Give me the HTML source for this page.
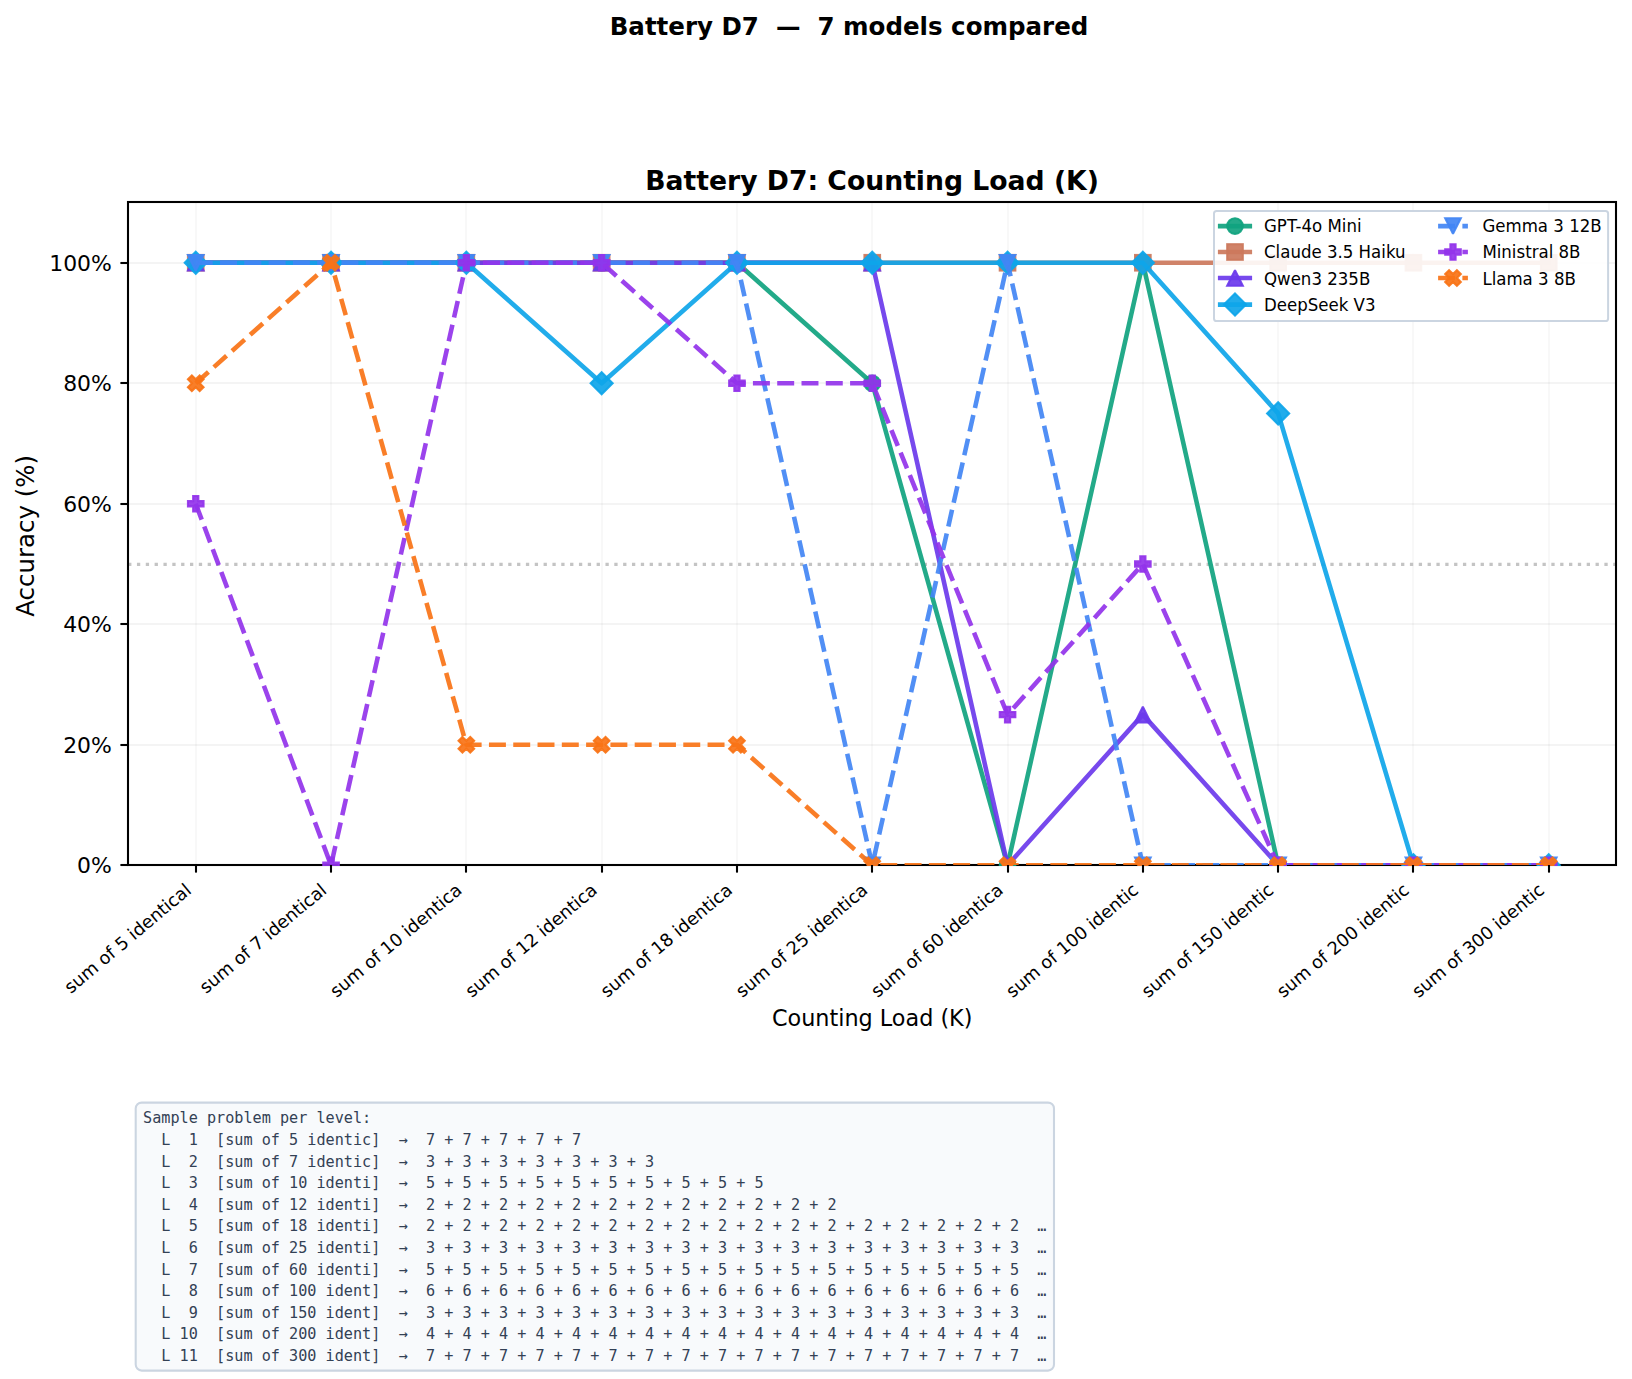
<!DOCTYPE html>
<html lang="en"><head><meta charset="utf-8"><title>Battery D7 — 7 models compared</title>
<style>html,body{margin:0;padding:0;background:#fff;overflow:hidden}svg{display:block}text{font-family:"DejaVu Sans","Liberation Sans",sans-serif;fill:#000}.mono{font-family:"DejaVu Sans Mono","Liberation Mono",monospace;fill:#334155;white-space:pre}</style></head><body>
<svg width="1632" height="1379" viewBox="0 0 1632 1379">
<rect width="1632" height="1379" fill="#fff"/>
<defs><clipPath id="ax"><rect x="128.0" y="202.0" width="1488.0" height="663.0"/></clipPath><clipPath id="axm"><rect x="128.0" y="202.0" width="1488.0" height="663.9"/></clipPath></defs>
<text x="849" y="35.4" text-anchor="middle" font-size="24.5" font-weight="bold" xml:space="preserve" style="white-space:pre">Battery D7  —  7 models compared</text>
<text x="872.05" y="189.5" text-anchor="middle" font-size="26.65" font-weight="bold">Battery D7: Counting Load (K)</text>
<g stroke="#000" stroke-width="1.67">
<line x1="196.0" y1="202.0" x2="196.0" y2="865.0" stroke-opacity="0.035"/>
<line x1="331.0" y1="202.0" x2="331.0" y2="865.0" stroke-opacity="0.035"/>
<line x1="466.0" y1="202.0" x2="466.0" y2="865.0" stroke-opacity="0.035"/>
<line x1="602.0" y1="202.0" x2="602.0" y2="865.0" stroke-opacity="0.035"/>
<line x1="737.0" y1="202.0" x2="737.0" y2="865.0" stroke-opacity="0.035"/>
<line x1="872.0" y1="202.0" x2="872.0" y2="865.0" stroke-opacity="0.035"/>
<line x1="1008.0" y1="202.0" x2="1008.0" y2="865.0" stroke-opacity="0.035"/>
<line x1="1143.0" y1="202.0" x2="1143.0" y2="865.0" stroke-opacity="0.035"/>
<line x1="1278.0" y1="202.0" x2="1278.0" y2="865.0" stroke-opacity="0.035"/>
<line x1="1413.0" y1="202.0" x2="1413.0" y2="865.0" stroke-opacity="0.035"/>
<line x1="1549.0" y1="202.0" x2="1549.0" y2="865.0" stroke-opacity="0.035"/>
<line x1="128.0" y1="865.0" x2="1616.0" y2="865.0" stroke-opacity="0.06"/>
<line x1="128.0" y1="745.0" x2="1616.0" y2="745.0" stroke-opacity="0.06"/>
<line x1="128.0" y1="624.0" x2="1616.0" y2="624.0" stroke-opacity="0.06"/>
<line x1="128.0" y1="504.0" x2="1616.0" y2="504.0" stroke-opacity="0.06"/>
<line x1="128.0" y1="383.0" x2="1616.0" y2="383.0" stroke-opacity="0.06"/>
<line x1="128.0" y1="263.0" x2="1616.0" y2="263.0" stroke-opacity="0.06"/>
</g>
<line x1="128.1" y1="564.40" x2="1616.4" y2="564.40" stroke="#c4c4c4" stroke-width="3.2" stroke-dasharray="3.3 5.54"/>
<rect x="128.0" y="202.0" width="1488.0" height="663.0" fill="none" stroke="#000" stroke-width="2.08"/>
<g clip-path="url(#ax)"><polyline points="195.75,262.75 331.05,262.75 466.35,262.75 601.65,262.75 736.95,262.75 872.25,383.25 1007.55,865.25 1142.85,262.75 1278.15,865.25 1413.45,865.25 1548.75,865.25" fill="none" stroke="#10a37f" stroke-opacity="0.92" stroke-width="4.58" stroke-linejoin="round" stroke-linecap="square"/></g>
<g clip-path="url(#axm)">
<circle cx="195.75" cy="262.75" r="7.80" fill="#10a37f" fill-opacity="0.92" stroke="#10a37f" stroke-opacity="0.92" stroke-width="2.08" stroke-linejoin="miter" stroke-miterlimit="2"/>
<circle cx="331.05" cy="262.75" r="7.80" fill="#10a37f" fill-opacity="0.92" stroke="#10a37f" stroke-opacity="0.92" stroke-width="2.08" stroke-linejoin="miter" stroke-miterlimit="2"/>
<circle cx="466.35" cy="262.75" r="7.80" fill="#10a37f" fill-opacity="0.92" stroke="#10a37f" stroke-opacity="0.92" stroke-width="2.08" stroke-linejoin="miter" stroke-miterlimit="2"/>
<circle cx="601.65" cy="262.75" r="7.80" fill="#10a37f" fill-opacity="0.92" stroke="#10a37f" stroke-opacity="0.92" stroke-width="2.08" stroke-linejoin="miter" stroke-miterlimit="2"/>
<circle cx="736.95" cy="262.75" r="7.80" fill="#10a37f" fill-opacity="0.92" stroke="#10a37f" stroke-opacity="0.92" stroke-width="2.08" stroke-linejoin="miter" stroke-miterlimit="2"/>
<circle cx="872.25" cy="383.25" r="7.80" fill="#10a37f" fill-opacity="0.92" stroke="#10a37f" stroke-opacity="0.92" stroke-width="2.08" stroke-linejoin="miter" stroke-miterlimit="2"/>
<circle cx="1007.55" cy="865.25" r="7.80" fill="#10a37f" fill-opacity="0.92" stroke="#10a37f" stroke-opacity="0.92" stroke-width="2.08" stroke-linejoin="miter" stroke-miterlimit="2"/>
<circle cx="1142.85" cy="262.75" r="7.80" fill="#10a37f" fill-opacity="0.92" stroke="#10a37f" stroke-opacity="0.92" stroke-width="2.08" stroke-linejoin="miter" stroke-miterlimit="2"/>
<circle cx="1278.15" cy="865.25" r="7.80" fill="#10a37f" fill-opacity="0.92" stroke="#10a37f" stroke-opacity="0.92" stroke-width="2.08" stroke-linejoin="miter" stroke-miterlimit="2"/>
<circle cx="1413.45" cy="865.25" r="7.80" fill="#10a37f" fill-opacity="0.92" stroke="#10a37f" stroke-opacity="0.92" stroke-width="2.08" stroke-linejoin="miter" stroke-miterlimit="2"/>
<circle cx="1548.75" cy="865.25" r="7.80" fill="#10a37f" fill-opacity="0.92" stroke="#10a37f" stroke-opacity="0.92" stroke-width="2.08" stroke-linejoin="miter" stroke-miterlimit="2"/>
</g>
<g clip-path="url(#ax)"><polyline points="195.75,262.75 331.05,262.75 466.35,262.75 601.65,262.75 736.95,262.75 872.25,262.75 1007.55,262.75 1142.85,262.75 1278.15,262.75 1413.45,262.75 1548.75,262.75" fill="none" stroke="#cc785c" stroke-opacity="0.92" stroke-width="4.58" stroke-linejoin="round" stroke-linecap="square"/></g>
<g clip-path="url(#axm)">
<rect x="187.95" y="254.95" width="15.60" height="15.60" fill="#cc785c" fill-opacity="0.92" stroke="#cc785c" stroke-opacity="0.92" stroke-width="2.08" stroke-linejoin="miter" stroke-miterlimit="2"/>
<rect x="323.25" y="254.95" width="15.60" height="15.60" fill="#cc785c" fill-opacity="0.92" stroke="#cc785c" stroke-opacity="0.92" stroke-width="2.08" stroke-linejoin="miter" stroke-miterlimit="2"/>
<rect x="458.55" y="254.95" width="15.60" height="15.60" fill="#cc785c" fill-opacity="0.92" stroke="#cc785c" stroke-opacity="0.92" stroke-width="2.08" stroke-linejoin="miter" stroke-miterlimit="2"/>
<rect x="593.85" y="254.95" width="15.60" height="15.60" fill="#cc785c" fill-opacity="0.92" stroke="#cc785c" stroke-opacity="0.92" stroke-width="2.08" stroke-linejoin="miter" stroke-miterlimit="2"/>
<rect x="729.15" y="254.95" width="15.60" height="15.60" fill="#cc785c" fill-opacity="0.92" stroke="#cc785c" stroke-opacity="0.92" stroke-width="2.08" stroke-linejoin="miter" stroke-miterlimit="2"/>
<rect x="864.45" y="254.95" width="15.60" height="15.60" fill="#cc785c" fill-opacity="0.92" stroke="#cc785c" stroke-opacity="0.92" stroke-width="2.08" stroke-linejoin="miter" stroke-miterlimit="2"/>
<rect x="999.75" y="254.95" width="15.60" height="15.60" fill="#cc785c" fill-opacity="0.92" stroke="#cc785c" stroke-opacity="0.92" stroke-width="2.08" stroke-linejoin="miter" stroke-miterlimit="2"/>
<rect x="1135.05" y="254.95" width="15.60" height="15.60" fill="#cc785c" fill-opacity="0.92" stroke="#cc785c" stroke-opacity="0.92" stroke-width="2.08" stroke-linejoin="miter" stroke-miterlimit="2"/>
<rect x="1270.35" y="254.95" width="15.60" height="15.60" fill="#cc785c" fill-opacity="0.92" stroke="#cc785c" stroke-opacity="0.92" stroke-width="2.08" stroke-linejoin="miter" stroke-miterlimit="2"/>
<rect x="1405.65" y="254.95" width="15.60" height="15.60" fill="#cc785c" fill-opacity="0.92" stroke="#cc785c" stroke-opacity="0.92" stroke-width="2.08" stroke-linejoin="miter" stroke-miterlimit="2"/>
<rect x="1540.95" y="254.95" width="15.60" height="15.60" fill="#cc785c" fill-opacity="0.92" stroke="#cc785c" stroke-opacity="0.92" stroke-width="2.08" stroke-linejoin="miter" stroke-miterlimit="2"/>
</g>
<g clip-path="url(#ax)"><polyline points="195.75,262.75 331.05,262.75 466.35,262.75 601.65,262.75 736.95,262.75 872.25,262.75 1007.55,865.25 1142.85,714.62 1278.15,865.25 1413.45,865.25 1548.75,865.25" fill="none" stroke="#6b3aeb" stroke-opacity="0.92" stroke-width="4.58" stroke-linejoin="round" stroke-linecap="square"/></g>
<g clip-path="url(#axm)">
<polygon points="195.75,254.95 203.55,270.55 187.95,270.55" fill="#6b3aeb" fill-opacity="0.92" stroke="#6b3aeb" stroke-opacity="0.92" stroke-width="2.08" stroke-linejoin="miter" stroke-miterlimit="2"/>
<polygon points="331.05,254.95 338.85,270.55 323.25,270.55" fill="#6b3aeb" fill-opacity="0.92" stroke="#6b3aeb" stroke-opacity="0.92" stroke-width="2.08" stroke-linejoin="miter" stroke-miterlimit="2"/>
<polygon points="466.35,254.95 474.15,270.55 458.55,270.55" fill="#6b3aeb" fill-opacity="0.92" stroke="#6b3aeb" stroke-opacity="0.92" stroke-width="2.08" stroke-linejoin="miter" stroke-miterlimit="2"/>
<polygon points="601.65,254.95 609.45,270.55 593.85,270.55" fill="#6b3aeb" fill-opacity="0.92" stroke="#6b3aeb" stroke-opacity="0.92" stroke-width="2.08" stroke-linejoin="miter" stroke-miterlimit="2"/>
<polygon points="736.95,254.95 744.75,270.55 729.15,270.55" fill="#6b3aeb" fill-opacity="0.92" stroke="#6b3aeb" stroke-opacity="0.92" stroke-width="2.08" stroke-linejoin="miter" stroke-miterlimit="2"/>
<polygon points="872.25,254.95 880.05,270.55 864.45,270.55" fill="#6b3aeb" fill-opacity="0.92" stroke="#6b3aeb" stroke-opacity="0.92" stroke-width="2.08" stroke-linejoin="miter" stroke-miterlimit="2"/>
<polygon points="1007.55,857.45 1015.35,873.05 999.75,873.05" fill="#6b3aeb" fill-opacity="0.92" stroke="#6b3aeb" stroke-opacity="0.92" stroke-width="2.08" stroke-linejoin="miter" stroke-miterlimit="2"/>
<polygon points="1142.85,706.83 1150.65,722.42 1135.05,722.42" fill="#6b3aeb" fill-opacity="0.92" stroke="#6b3aeb" stroke-opacity="0.92" stroke-width="2.08" stroke-linejoin="miter" stroke-miterlimit="2"/>
<polygon points="1278.15,857.45 1285.95,873.05 1270.35,873.05" fill="#6b3aeb" fill-opacity="0.92" stroke="#6b3aeb" stroke-opacity="0.92" stroke-width="2.08" stroke-linejoin="miter" stroke-miterlimit="2"/>
<polygon points="1413.45,857.45 1421.25,873.05 1405.65,873.05" fill="#6b3aeb" fill-opacity="0.92" stroke="#6b3aeb" stroke-opacity="0.92" stroke-width="2.08" stroke-linejoin="miter" stroke-miterlimit="2"/>
<polygon points="1548.75,857.45 1556.55,873.05 1540.95,873.05" fill="#6b3aeb" fill-opacity="0.92" stroke="#6b3aeb" stroke-opacity="0.92" stroke-width="2.08" stroke-linejoin="miter" stroke-miterlimit="2"/>
</g>
<g clip-path="url(#ax)"><polyline points="195.75,262.75 331.05,262.75 466.35,262.75 601.65,383.25 736.95,262.75 872.25,262.75 1007.55,262.75 1142.85,262.75 1278.15,413.38 1413.45,865.25 1548.75,865.25" fill="none" stroke="#0ea5e9" stroke-opacity="0.92" stroke-width="4.58" stroke-linejoin="round" stroke-linecap="square"/></g>
<g clip-path="url(#axm)">
<polygon points="195.75,251.72 206.78,262.75 195.75,273.78 184.72,262.75" fill="#0ea5e9" fill-opacity="0.92" stroke="#0ea5e9" stroke-opacity="0.92" stroke-width="2.08" stroke-linejoin="miter" stroke-miterlimit="2"/>
<polygon points="331.05,251.72 342.08,262.75 331.05,273.78 320.02,262.75" fill="#0ea5e9" fill-opacity="0.92" stroke="#0ea5e9" stroke-opacity="0.92" stroke-width="2.08" stroke-linejoin="miter" stroke-miterlimit="2"/>
<polygon points="466.35,251.72 477.38,262.75 466.35,273.78 455.32,262.75" fill="#0ea5e9" fill-opacity="0.92" stroke="#0ea5e9" stroke-opacity="0.92" stroke-width="2.08" stroke-linejoin="miter" stroke-miterlimit="2"/>
<polygon points="601.65,372.22 612.68,383.25 601.65,394.28 590.62,383.25" fill="#0ea5e9" fill-opacity="0.92" stroke="#0ea5e9" stroke-opacity="0.92" stroke-width="2.08" stroke-linejoin="miter" stroke-miterlimit="2"/>
<polygon points="736.95,251.72 747.98,262.75 736.95,273.78 725.92,262.75" fill="#0ea5e9" fill-opacity="0.92" stroke="#0ea5e9" stroke-opacity="0.92" stroke-width="2.08" stroke-linejoin="miter" stroke-miterlimit="2"/>
<polygon points="872.25,251.72 883.28,262.75 872.25,273.78 861.22,262.75" fill="#0ea5e9" fill-opacity="0.92" stroke="#0ea5e9" stroke-opacity="0.92" stroke-width="2.08" stroke-linejoin="miter" stroke-miterlimit="2"/>
<polygon points="1007.55,251.72 1018.58,262.75 1007.55,273.78 996.52,262.75" fill="#0ea5e9" fill-opacity="0.92" stroke="#0ea5e9" stroke-opacity="0.92" stroke-width="2.08" stroke-linejoin="miter" stroke-miterlimit="2"/>
<polygon points="1142.85,251.72 1153.88,262.75 1142.85,273.78 1131.82,262.75" fill="#0ea5e9" fill-opacity="0.92" stroke="#0ea5e9" stroke-opacity="0.92" stroke-width="2.08" stroke-linejoin="miter" stroke-miterlimit="2"/>
<polygon points="1278.15,402.34 1289.18,413.38 1278.15,424.41 1267.12,413.38" fill="#0ea5e9" fill-opacity="0.92" stroke="#0ea5e9" stroke-opacity="0.92" stroke-width="2.08" stroke-linejoin="miter" stroke-miterlimit="2"/>
<polygon points="1413.45,854.22 1424.48,865.25 1413.45,876.28 1402.42,865.25" fill="#0ea5e9" fill-opacity="0.92" stroke="#0ea5e9" stroke-opacity="0.92" stroke-width="2.08" stroke-linejoin="miter" stroke-miterlimit="2"/>
<polygon points="1548.75,854.22 1559.78,865.25 1548.75,876.28 1537.72,865.25" fill="#0ea5e9" fill-opacity="0.92" stroke="#0ea5e9" stroke-opacity="0.92" stroke-width="2.08" stroke-linejoin="miter" stroke-miterlimit="2"/>
</g>
<g clip-path="url(#ax)"><polyline points="195.75,262.75 331.05,262.75 466.35,262.75 601.65,262.75 736.95,262.75 872.25,865.25 1007.55,262.75 1142.85,865.25 1278.15,865.25 1413.45,865.25 1548.75,865.25" fill="none" stroke="#4285f4" stroke-opacity="0.92" stroke-width="4.58" stroke-linejoin="round" stroke-dasharray="16.96 7.33" stroke-linecap="butt"/></g>
<g clip-path="url(#axm)">
<polygon points="195.75,270.55 203.55,254.95 187.95,254.95" fill="#4285f4" fill-opacity="0.92" stroke="#4285f4" stroke-opacity="0.92" stroke-width="2.08" stroke-linejoin="miter" stroke-miterlimit="2"/>
<polygon points="331.05,270.55 338.85,254.95 323.25,254.95" fill="#4285f4" fill-opacity="0.92" stroke="#4285f4" stroke-opacity="0.92" stroke-width="2.08" stroke-linejoin="miter" stroke-miterlimit="2"/>
<polygon points="466.35,270.55 474.15,254.95 458.55,254.95" fill="#4285f4" fill-opacity="0.92" stroke="#4285f4" stroke-opacity="0.92" stroke-width="2.08" stroke-linejoin="miter" stroke-miterlimit="2"/>
<polygon points="601.65,270.55 609.45,254.95 593.85,254.95" fill="#4285f4" fill-opacity="0.92" stroke="#4285f4" stroke-opacity="0.92" stroke-width="2.08" stroke-linejoin="miter" stroke-miterlimit="2"/>
<polygon points="736.95,270.55 744.75,254.95 729.15,254.95" fill="#4285f4" fill-opacity="0.92" stroke="#4285f4" stroke-opacity="0.92" stroke-width="2.08" stroke-linejoin="miter" stroke-miterlimit="2"/>
<polygon points="872.25,873.05 880.05,857.45 864.45,857.45" fill="#4285f4" fill-opacity="0.92" stroke="#4285f4" stroke-opacity="0.92" stroke-width="2.08" stroke-linejoin="miter" stroke-miterlimit="2"/>
<polygon points="1007.55,270.55 1015.35,254.95 999.75,254.95" fill="#4285f4" fill-opacity="0.92" stroke="#4285f4" stroke-opacity="0.92" stroke-width="2.08" stroke-linejoin="miter" stroke-miterlimit="2"/>
<polygon points="1142.85,873.05 1150.65,857.45 1135.05,857.45" fill="#4285f4" fill-opacity="0.92" stroke="#4285f4" stroke-opacity="0.92" stroke-width="2.08" stroke-linejoin="miter" stroke-miterlimit="2"/>
<polygon points="1278.15,873.05 1285.95,857.45 1270.35,857.45" fill="#4285f4" fill-opacity="0.92" stroke="#4285f4" stroke-opacity="0.92" stroke-width="2.08" stroke-linejoin="miter" stroke-miterlimit="2"/>
<polygon points="1413.45,873.05 1421.25,857.45 1405.65,857.45" fill="#4285f4" fill-opacity="0.92" stroke="#4285f4" stroke-opacity="0.92" stroke-width="2.08" stroke-linejoin="miter" stroke-miterlimit="2"/>
<polygon points="1548.75,873.05 1556.55,857.45 1540.95,857.45" fill="#4285f4" fill-opacity="0.92" stroke="#4285f4" stroke-opacity="0.92" stroke-width="2.08" stroke-linejoin="miter" stroke-miterlimit="2"/>
</g>
<g clip-path="url(#ax)"><polyline points="195.75,503.75 331.05,865.25 466.35,262.75 601.65,262.75 736.95,383.25 872.25,383.25 1007.55,714.62 1142.85,564.00 1278.15,865.25 1413.45,865.25 1548.75,865.25" fill="none" stroke="#9333ea" stroke-opacity="0.92" stroke-width="4.58" stroke-linejoin="round" stroke-dasharray="16.96 7.33" stroke-linecap="butt"/></g>
<g clip-path="url(#axm)">
<polygon points="193.15,495.95 198.35,495.95 198.35,501.15 203.55,501.15 203.55,506.35 198.35,506.35 198.35,511.55 193.15,511.55 193.15,506.35 187.95,506.35 187.95,501.15 193.15,501.15" fill="#9333ea" fill-opacity="0.92" stroke="#9333ea" stroke-opacity="0.92" stroke-width="2.08" stroke-linejoin="miter" stroke-miterlimit="2"/>
<polygon points="328.45,857.45 333.65,857.45 333.65,862.65 338.85,862.65 338.85,867.85 333.65,867.85 333.65,873.05 328.45,873.05 328.45,867.85 323.25,867.85 323.25,862.65 328.45,862.65" fill="#9333ea" fill-opacity="0.92" stroke="#9333ea" stroke-opacity="0.92" stroke-width="2.08" stroke-linejoin="miter" stroke-miterlimit="2"/>
<polygon points="463.75,254.95 468.95,254.95 468.95,260.15 474.15,260.15 474.15,265.35 468.95,265.35 468.95,270.55 463.75,270.55 463.75,265.35 458.55,265.35 458.55,260.15 463.75,260.15" fill="#9333ea" fill-opacity="0.92" stroke="#9333ea" stroke-opacity="0.92" stroke-width="2.08" stroke-linejoin="miter" stroke-miterlimit="2"/>
<polygon points="599.05,254.95 604.25,254.95 604.25,260.15 609.45,260.15 609.45,265.35 604.25,265.35 604.25,270.55 599.05,270.55 599.05,265.35 593.85,265.35 593.85,260.15 599.05,260.15" fill="#9333ea" fill-opacity="0.92" stroke="#9333ea" stroke-opacity="0.92" stroke-width="2.08" stroke-linejoin="miter" stroke-miterlimit="2"/>
<polygon points="734.35,375.45 739.55,375.45 739.55,380.65 744.75,380.65 744.75,385.85 739.55,385.85 739.55,391.05 734.35,391.05 734.35,385.85 729.15,385.85 729.15,380.65 734.35,380.65" fill="#9333ea" fill-opacity="0.92" stroke="#9333ea" stroke-opacity="0.92" stroke-width="2.08" stroke-linejoin="miter" stroke-miterlimit="2"/>
<polygon points="869.65,375.45 874.85,375.45 874.85,380.65 880.05,380.65 880.05,385.85 874.85,385.85 874.85,391.05 869.65,391.05 869.65,385.85 864.45,385.85 864.45,380.65 869.65,380.65" fill="#9333ea" fill-opacity="0.92" stroke="#9333ea" stroke-opacity="0.92" stroke-width="2.08" stroke-linejoin="miter" stroke-miterlimit="2"/>
<polygon points="1004.95,706.83 1010.15,706.83 1010.15,712.02 1015.35,712.02 1015.35,717.23 1010.15,717.23 1010.15,722.42 1004.95,722.42 1004.95,717.23 999.75,717.23 999.75,712.02 1004.95,712.02" fill="#9333ea" fill-opacity="0.92" stroke="#9333ea" stroke-opacity="0.92" stroke-width="2.08" stroke-linejoin="miter" stroke-miterlimit="2"/>
<polygon points="1140.25,556.20 1145.45,556.20 1145.45,561.40 1150.65,561.40 1150.65,566.60 1145.45,566.60 1145.45,571.80 1140.25,571.80 1140.25,566.60 1135.05,566.60 1135.05,561.40 1140.25,561.40" fill="#9333ea" fill-opacity="0.92" stroke="#9333ea" stroke-opacity="0.92" stroke-width="2.08" stroke-linejoin="miter" stroke-miterlimit="2"/>
<polygon points="1275.55,857.45 1280.75,857.45 1280.75,862.65 1285.95,862.65 1285.95,867.85 1280.75,867.85 1280.75,873.05 1275.55,873.05 1275.55,867.85 1270.35,867.85 1270.35,862.65 1275.55,862.65" fill="#9333ea" fill-opacity="0.92" stroke="#9333ea" stroke-opacity="0.92" stroke-width="2.08" stroke-linejoin="miter" stroke-miterlimit="2"/>
<polygon points="1410.85,857.45 1416.05,857.45 1416.05,862.65 1421.25,862.65 1421.25,867.85 1416.05,867.85 1416.05,873.05 1410.85,873.05 1410.85,867.85 1405.65,867.85 1405.65,862.65 1410.85,862.65" fill="#9333ea" fill-opacity="0.92" stroke="#9333ea" stroke-opacity="0.92" stroke-width="2.08" stroke-linejoin="miter" stroke-miterlimit="2"/>
<polygon points="1546.15,857.45 1551.35,857.45 1551.35,862.65 1556.55,862.65 1556.55,867.85 1551.35,867.85 1551.35,873.05 1546.15,873.05 1546.15,867.85 1540.95,867.85 1540.95,862.65 1546.15,862.65" fill="#9333ea" fill-opacity="0.92" stroke="#9333ea" stroke-opacity="0.92" stroke-width="2.08" stroke-linejoin="miter" stroke-miterlimit="2"/>
</g>
<g clip-path="url(#ax)"><polyline points="195.75,383.25 331.05,262.75 466.35,744.75 601.65,744.75 736.95,744.75 872.25,865.25 1007.55,865.25 1142.85,865.25 1278.15,865.25 1413.45,865.25 1548.75,865.25" fill="none" stroke="#f97316" stroke-opacity="0.92" stroke-width="4.58" stroke-linejoin="round" stroke-dasharray="16.96 7.33" stroke-linecap="butt"/></g>
<g clip-path="url(#axm)">
<polygon points="191.85,375.45 195.75,379.35 199.65,375.45 203.55,379.35 199.65,383.25 203.55,387.15 199.65,391.05 195.75,387.15 191.85,391.05 187.95,387.15 191.85,383.25 187.95,379.35" fill="#f97316" fill-opacity="0.92" stroke="#f97316" stroke-opacity="0.92" stroke-width="2.08" stroke-linejoin="miter" stroke-miterlimit="2"/>
<polygon points="327.15,254.95 331.05,258.85 334.95,254.95 338.85,258.85 334.95,262.75 338.85,266.65 334.95,270.55 331.05,266.65 327.15,270.55 323.25,266.65 327.15,262.75 323.25,258.85" fill="#f97316" fill-opacity="0.92" stroke="#f97316" stroke-opacity="0.92" stroke-width="2.08" stroke-linejoin="miter" stroke-miterlimit="2"/>
<polygon points="462.45,736.95 466.35,740.85 470.25,736.95 474.15,740.85 470.25,744.75 474.15,748.65 470.25,752.55 466.35,748.65 462.45,752.55 458.55,748.65 462.45,744.75 458.55,740.85" fill="#f97316" fill-opacity="0.92" stroke="#f97316" stroke-opacity="0.92" stroke-width="2.08" stroke-linejoin="miter" stroke-miterlimit="2"/>
<polygon points="597.75,736.95 601.65,740.85 605.55,736.95 609.45,740.85 605.55,744.75 609.45,748.65 605.55,752.55 601.65,748.65 597.75,752.55 593.85,748.65 597.75,744.75 593.85,740.85" fill="#f97316" fill-opacity="0.92" stroke="#f97316" stroke-opacity="0.92" stroke-width="2.08" stroke-linejoin="miter" stroke-miterlimit="2"/>
<polygon points="733.05,736.95 736.95,740.85 740.85,736.95 744.75,740.85 740.85,744.75 744.75,748.65 740.85,752.55 736.95,748.65 733.05,752.55 729.15,748.65 733.05,744.75 729.15,740.85" fill="#f97316" fill-opacity="0.92" stroke="#f97316" stroke-opacity="0.92" stroke-width="2.08" stroke-linejoin="miter" stroke-miterlimit="2"/>
<polygon points="868.35,857.45 872.25,861.35 876.15,857.45 880.05,861.35 876.15,865.25 880.05,869.15 876.15,873.05 872.25,869.15 868.35,873.05 864.45,869.15 868.35,865.25 864.45,861.35" fill="#f97316" fill-opacity="0.92" stroke="#f97316" stroke-opacity="0.92" stroke-width="2.08" stroke-linejoin="miter" stroke-miterlimit="2"/>
<polygon points="1003.65,857.45 1007.55,861.35 1011.45,857.45 1015.35,861.35 1011.45,865.25 1015.35,869.15 1011.45,873.05 1007.55,869.15 1003.65,873.05 999.75,869.15 1003.65,865.25 999.75,861.35" fill="#f97316" fill-opacity="0.92" stroke="#f97316" stroke-opacity="0.92" stroke-width="2.08" stroke-linejoin="miter" stroke-miterlimit="2"/>
<polygon points="1138.95,857.45 1142.85,861.35 1146.75,857.45 1150.65,861.35 1146.75,865.25 1150.65,869.15 1146.75,873.05 1142.85,869.15 1138.95,873.05 1135.05,869.15 1138.95,865.25 1135.05,861.35" fill="#f97316" fill-opacity="0.92" stroke="#f97316" stroke-opacity="0.92" stroke-width="2.08" stroke-linejoin="miter" stroke-miterlimit="2"/>
<polygon points="1274.25,857.45 1278.15,861.35 1282.05,857.45 1285.95,861.35 1282.05,865.25 1285.95,869.15 1282.05,873.05 1278.15,869.15 1274.25,873.05 1270.35,869.15 1274.25,865.25 1270.35,861.35" fill="#f97316" fill-opacity="0.92" stroke="#f97316" stroke-opacity="0.92" stroke-width="2.08" stroke-linejoin="miter" stroke-miterlimit="2"/>
<polygon points="1409.55,857.45 1413.45,861.35 1417.35,857.45 1421.25,861.35 1417.35,865.25 1421.25,869.15 1417.35,873.05 1413.45,869.15 1409.55,873.05 1405.65,869.15 1409.55,865.25 1405.65,861.35" fill="#f97316" fill-opacity="0.92" stroke="#f97316" stroke-opacity="0.92" stroke-width="2.08" stroke-linejoin="miter" stroke-miterlimit="2"/>
<polygon points="1544.85,857.45 1548.75,861.35 1552.65,857.45 1556.55,861.35 1552.65,865.25 1556.55,869.15 1552.65,873.05 1548.75,869.15 1544.85,873.05 1540.95,869.15 1544.85,865.25 1540.95,861.35" fill="#f97316" fill-opacity="0.92" stroke="#f97316" stroke-opacity="0.92" stroke-width="2.08" stroke-linejoin="miter" stroke-miterlimit="2"/>
</g>
<g stroke="#000" stroke-width="2.08">
<line x1="196.0" y1="865.0" x2="196.0" y2="872.60"/>
<line x1="331.0" y1="865.0" x2="331.0" y2="872.60"/>
<line x1="466.0" y1="865.0" x2="466.0" y2="872.60"/>
<line x1="602.0" y1="865.0" x2="602.0" y2="872.60"/>
<line x1="737.0" y1="865.0" x2="737.0" y2="872.60"/>
<line x1="872.0" y1="865.0" x2="872.0" y2="872.60"/>
<line x1="1008.0" y1="865.0" x2="1008.0" y2="872.60"/>
<line x1="1143.0" y1="865.0" x2="1143.0" y2="872.60"/>
<line x1="1278.0" y1="865.0" x2="1278.0" y2="872.60"/>
<line x1="1413.0" y1="865.0" x2="1413.0" y2="872.60"/>
<line x1="1549.0" y1="865.0" x2="1549.0" y2="872.60"/>
<line x1="120.40" y1="865.0" x2="128.0" y2="865.0"/>
<line x1="120.40" y1="745.0" x2="128.0" y2="745.0"/>
<line x1="120.40" y1="624.0" x2="128.0" y2="624.0"/>
<line x1="120.40" y1="504.0" x2="128.0" y2="504.0"/>
<line x1="120.40" y1="383.0" x2="128.0" y2="383.0"/>
<line x1="120.40" y1="263.0" x2="128.0" y2="263.0"/>
</g>
<text x="111.8" y="872.90" text-anchor="end" font-size="21.9">0%</text>
<text x="111.8" y="752.90" text-anchor="end" font-size="21.9">20%</text>
<text x="111.8" y="631.90" text-anchor="end" font-size="21.9">40%</text>
<text x="111.8" y="511.90" text-anchor="end" font-size="21.9">60%</text>
<text x="111.8" y="390.90" text-anchor="end" font-size="21.9">80%</text>
<text x="111.8" y="270.90" text-anchor="end" font-size="21.9">100%</text>
<text transform="translate(192.45,892.00) rotate(-40)" text-anchor="end" font-size="17.75">sum of 5 identical</text>
<text transform="translate(327.75,892.00) rotate(-40)" text-anchor="end" font-size="17.75">sum of 7 identical</text>
<text transform="translate(463.05,892.00) rotate(-40)" text-anchor="end" font-size="17.75">sum of 10 identica</text>
<text transform="translate(598.35,892.00) rotate(-40)" text-anchor="end" font-size="17.75">sum of 12 identica</text>
<text transform="translate(733.65,892.00) rotate(-40)" text-anchor="end" font-size="17.75">sum of 18 identica</text>
<text transform="translate(868.95,892.00) rotate(-40)" text-anchor="end" font-size="17.75">sum of 25 identica</text>
<text transform="translate(1004.25,892.00) rotate(-40)" text-anchor="end" font-size="17.75">sum of 60 identica</text>
<text transform="translate(1139.55,892.00) rotate(-40)" text-anchor="end" font-size="17.75">sum of 100 identic</text>
<text transform="translate(1274.85,892.00) rotate(-40)" text-anchor="end" font-size="17.75">sum of 150 identic</text>
<text transform="translate(1410.15,892.00) rotate(-40)" text-anchor="end" font-size="17.75">sum of 200 identic</text>
<text transform="translate(1545.45,892.00) rotate(-40)" text-anchor="end" font-size="17.75">sum of 300 identic</text>
<text x="872.2" y="1026.2" text-anchor="middle" font-size="22.32">Counting Load (K)</text>
<text transform="translate(33.8,535.88) rotate(-90)" text-anchor="middle" font-size="24.45">Accuracy (%)</text>
<rect x="1214.0" y="211.0" width="394.0999999999999" height="110.0" rx="2.6" ry="2.6" fill="#fff" fill-opacity="0.9" stroke="#cbd5e1" stroke-width="2.0"/>
<g><line x1="1220.2" y1="226.1" x2="1249.8" y2="226.1" stroke="#10a37f" stroke-opacity="0.92" stroke-width="4.58" stroke-linecap="square"/>
<circle cx="1235.00" cy="226.10" r="7.80" fill="#10a37f" fill-opacity="0.92" stroke="#10a37f" stroke-opacity="0.92" stroke-width="2.08" stroke-linejoin="miter" stroke-miterlimit="2"/></g>
<text transform="translate(1264.0,231.9) scale(1,1.08)" font-size="16.62">GPT-4o Mini</text>
<g><line x1="1220.2" y1="252.0" x2="1249.8" y2="252.0" stroke="#cc785c" stroke-opacity="0.92" stroke-width="4.58" stroke-linecap="square"/>
<rect x="1227.20" y="244.20" width="15.60" height="15.60" fill="#cc785c" fill-opacity="0.92" stroke="#cc785c" stroke-opacity="0.92" stroke-width="2.08" stroke-linejoin="miter" stroke-miterlimit="2"/></g>
<text transform="translate(1264.0,258.4) scale(1,1.08)" font-size="16.62">Claude 3.5 Haiku</text>
<g><line x1="1220.2" y1="278.0" x2="1249.8" y2="278.0" stroke="#6b3aeb" stroke-opacity="0.92" stroke-width="4.58" stroke-linecap="square"/>
<polygon points="1235.00,270.20 1242.80,285.80 1227.20,285.80" fill="#6b3aeb" fill-opacity="0.92" stroke="#6b3aeb" stroke-opacity="0.92" stroke-width="2.08" stroke-linejoin="miter" stroke-miterlimit="2"/></g>
<text transform="translate(1264.0,284.7) scale(1,1.08)" font-size="16.62">Qwen3 235B</text>
<g><line x1="1220.2" y1="304.6" x2="1249.8" y2="304.6" stroke="#0ea5e9" stroke-opacity="0.92" stroke-width="4.58" stroke-linecap="square"/>
<polygon points="1235.00,293.57 1246.03,304.60 1235.00,315.63 1223.97,304.60" fill="#0ea5e9" fill-opacity="0.92" stroke="#0ea5e9" stroke-opacity="0.92" stroke-width="2.08" stroke-linejoin="miter" stroke-miterlimit="2"/></g>
<text transform="translate(1264.0,311.0) scale(1,1.08)" font-size="16.62">DeepSeek V3</text>
<g><line x1="1438.1" y1="226.1" x2="1467.9" y2="226.1" stroke="#4285f4" stroke-opacity="0.92" stroke-width="4.58" stroke-dasharray="16.96 7.33"/>
<polygon points="1453.00,233.90 1460.80,218.30 1445.20,218.30" fill="#4285f4" fill-opacity="0.92" stroke="#4285f4" stroke-opacity="0.92" stroke-width="2.08" stroke-linejoin="miter" stroke-miterlimit="2"/></g>
<text transform="translate(1482.4,231.9) scale(1,1.08)" font-size="16.62">Gemma 3 12B</text>
<g><line x1="1438.1" y1="252.0" x2="1467.9" y2="252.0" stroke="#9333ea" stroke-opacity="0.92" stroke-width="4.58" stroke-dasharray="16.96 7.33"/>
<polygon points="1450.40,244.20 1455.60,244.20 1455.60,249.40 1460.80,249.40 1460.80,254.60 1455.60,254.60 1455.60,259.80 1450.40,259.80 1450.40,254.60 1445.20,254.60 1445.20,249.40 1450.40,249.40" fill="#9333ea" fill-opacity="0.92" stroke="#9333ea" stroke-opacity="0.92" stroke-width="2.08" stroke-linejoin="miter" stroke-miterlimit="2"/></g>
<text transform="translate(1482.4,258.4) scale(1,1.08)" font-size="16.62">Ministral 8B</text>
<g><line x1="1438.1" y1="278.0" x2="1467.9" y2="278.0" stroke="#f97316" stroke-opacity="0.92" stroke-width="4.58" stroke-dasharray="16.96 7.33"/>
<polygon points="1449.10,270.20 1453.00,274.10 1456.90,270.20 1460.80,274.10 1456.90,278.00 1460.80,281.90 1456.90,285.80 1453.00,281.90 1449.10,285.80 1445.20,281.90 1449.10,278.00 1445.20,274.10" fill="#f97316" fill-opacity="0.92" stroke="#f97316" stroke-opacity="0.92" stroke-width="2.08" stroke-linejoin="miter" stroke-miterlimit="2"/></g>
<text transform="translate(1482.4,284.7) scale(1,1.08)" font-size="16.62">Llama 3 8B</text>
<rect x="135.7" y="1102.6" width="918.3" height="268.0" rx="6" ry="6" fill="#f8fafc" stroke="#cbd5e1" stroke-width="2.08"/>
<text class="mono" x="143.1" y="1123" font-size="15.173" xml:space="preserve">Sample problem per level:</text>
<text class="mono" x="143.1" y="1145" font-size="15.173" xml:space="preserve">  L  1  [sum of 5 identic]  →  7 + 7 + 7 + 7 + 7</text>
<text class="mono" x="143.1" y="1167" font-size="15.173" xml:space="preserve">  L  2  [sum of 7 identic]  →  3 + 3 + 3 + 3 + 3 + 3 + 3</text>
<text class="mono" x="143.1" y="1188" font-size="15.173" xml:space="preserve">  L  3  [sum of 10 identi]  →  5 + 5 + 5 + 5 + 5 + 5 + 5 + 5 + 5 + 5</text>
<text class="mono" x="143.1" y="1210" font-size="15.173" xml:space="preserve">  L  4  [sum of 12 identi]  →  2 + 2 + 2 + 2 + 2 + 2 + 2 + 2 + 2 + 2 + 2 + 2</text>
<text class="mono" x="143.1" y="1231" font-size="15.173" xml:space="preserve">  L  5  [sum of 18 identi]  →  2 + 2 + 2 + 2 + 2 + 2 + 2 + 2 + 2 + 2 + 2 + 2 + 2 + 2 + 2 + 2 + 2  …</text>
<text class="mono" x="143.1" y="1253" font-size="15.173" xml:space="preserve">  L  6  [sum of 25 identi]  →  3 + 3 + 3 + 3 + 3 + 3 + 3 + 3 + 3 + 3 + 3 + 3 + 3 + 3 + 3 + 3 + 3  …</text>
<text class="mono" x="143.1" y="1275" font-size="15.173" xml:space="preserve">  L  7  [sum of 60 identi]  →  5 + 5 + 5 + 5 + 5 + 5 + 5 + 5 + 5 + 5 + 5 + 5 + 5 + 5 + 5 + 5 + 5  …</text>
<text class="mono" x="143.1" y="1296" font-size="15.173" xml:space="preserve">  L  8  [sum of 100 ident]  →  6 + 6 + 6 + 6 + 6 + 6 + 6 + 6 + 6 + 6 + 6 + 6 + 6 + 6 + 6 + 6 + 6  …</text>
<text class="mono" x="143.1" y="1318" font-size="15.173" xml:space="preserve">  L  9  [sum of 150 ident]  →  3 + 3 + 3 + 3 + 3 + 3 + 3 + 3 + 3 + 3 + 3 + 3 + 3 + 3 + 3 + 3 + 3  …</text>
<text class="mono" x="143.1" y="1339" font-size="15.173" xml:space="preserve">  L 10  [sum of 200 ident]  →  4 + 4 + 4 + 4 + 4 + 4 + 4 + 4 + 4 + 4 + 4 + 4 + 4 + 4 + 4 + 4 + 4  …</text>
<text class="mono" x="143.1" y="1361" font-size="15.173" xml:space="preserve">  L 11  [sum of 300 ident]  →  7 + 7 + 7 + 7 + 7 + 7 + 7 + 7 + 7 + 7 + 7 + 7 + 7 + 7 + 7 + 7 + 7  …</text>
</svg></body></html>
